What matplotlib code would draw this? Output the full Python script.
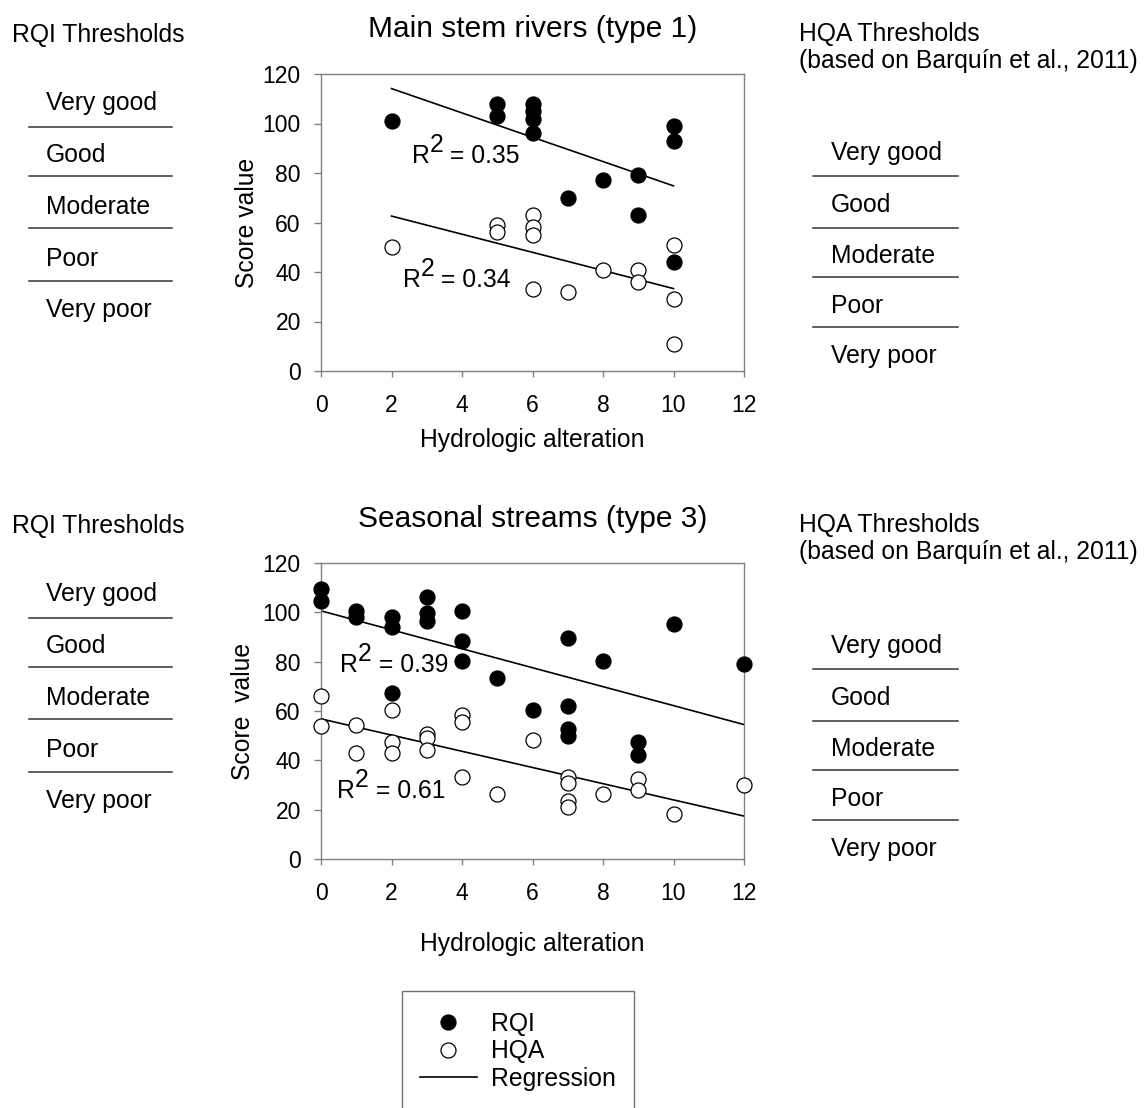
import matplotlib
matplotlib.use("Agg")
import matplotlib.pyplot as plt
from matplotlib.lines import Line2D
from matplotlib.patches import Rectangle

plt.rcParams['font.family'] = ['Liberation Sans', 'DejaVu Sans']

# ---------------- data ----------------
xticks = [0, 2, 4, 6, 8, 10, 12]
yticks = [0, 20, 40, 60, 80, 100, 120]
levels = ["Very good", "Good", "Moderate", "Poor", "Very poor"]

# Main stem rivers (type 1)
t1_rqi_x = [2, 5, 5, 6, 6, 6, 6, 7, 8, 9, 9, 10, 10, 10]
t1_rqi_y = [101, 108, 103, 108, 105, 102, 96, 70, 77, 79, 63, 99, 93, 44]
t1_hqa_x = [2, 5, 5, 6, 6, 6, 6, 7, 8, 9, 9, 10, 10, 10]
t1_hqa_y = [50, 59, 56, 63, 58, 55, 33, 32, 41, 41, 36, 51, 29, 11]
t1_fit_x = [2, 10]
t1_fit_rqi = [114.1, 74.8]
t1_fit_hqa = [62.6, 33.3]
t1_r2 = ["0.35", "0.34"]

# Seasonal streams (type 3)
t3_rqi_x = [0, 0, 1, 1, 2, 2, 2, 3, 3, 3, 4, 4, 4, 5, 6, 7, 7, 7, 7, 8, 9, 9, 10, 12]
t3_rqi_y = [109.5, 104.5, 100.5, 98, 98.2, 94.2, 67.2, 106.4, 99.8, 96.6, 100.4, 88.2, 80.1,
            73.2, 60.4, 89.4, 62.2, 52.6, 50, 80.1, 47.3, 42.3, 95.3, 79]
t3_hqa_x = [0, 0, 1, 1, 2, 2, 2, 3, 3, 3, 4, 4, 4, 5, 6, 7, 7, 7, 7, 8, 9, 9, 10, 12]
t3_hqa_y = [66.2, 54.1, 54.5, 43, 60.4, 47.3, 43, 50.7, 48.9, 44.2, 58.4, 55.7, 33.1,
            26.4, 48.2, 33.4, 30.7, 23.6, 20.9, 26.4, 32.4, 28, 18.2, 30.1]
t3_fit_x = [0, 12]
t3_fit_rqi = [100.6, 54.5]
t3_fit_hqa = [56.8, 17.4]
t3_r2 = ["0.39", "0.61"]

# ---------------- layout ----------------
W, H = 1146, 1108
fig = plt.figure(figsize=(W / 100, H / 100), dpi=100)
fig.patch.set_facecolor('white')


def fx(px):
    return px / W


def fy(py):
    return 1 - py / H


SPINE = '#808080'
BODY = 17.8
MS = 10.8


def r2_label(ax, xr, yr, val):
    t_r = ax.text(xr, yr, "R", fontsize=BODY, ha='left', va='baseline')
    t_2 = ax.annotate("2", xy=(1, 0), xycoords=t_r, xytext=(0, 11),
                      textcoords='offset pixels', fontsize=BODY, ha='left', va='bottom')
    ax.annotate(" = " + val, xy=(1, 0), xycoords=t_2, xytext=(0, -11),
                textcoords='offset pixels', fontsize=BODY, ha='left', va='bottom')


def make_axes(top, bottom, title, title_base, ylabel, ylab_x, xlab_base,
              rqi_x, rqi_y, hqa_x, hqa_y, fit_x, fit_rqi, fit_hqa, r2, r2pos):
    ax = fig.add_axes([fx(321), fy(bottom), (744 - 321) / W, (bottom - top) / H])
    ax.plot(fit_x, fit_rqi, color='black', lw=1.2, zorder=2)
    ax.plot(fit_x, fit_hqa, color='black', lw=1.2, zorder=2)
    ax.plot(rqi_x, rqi_y, ls='none', marker='o', ms=MS, mfc='black', mec='black',
            mew=0.9, clip_on=False, zorder=3)
    ax.plot(hqa_x, hqa_y, ls='none', marker='o', ms=MS, mfc='white', mec='black',
            mew=0.9, clip_on=False, zorder=3)
    ax.set_xlim(0, 12)
    ax.set_ylim(0, 120)
    ax.set_xticks(xticks)
    ax.set_yticks(yticks)
    ax.set_xticklabels([str(v) for v in xticks])
    ax.set_yticklabels([str(v) for v in yticks])
    for s in ax.spines.values():
        s.set_color(SPINE)
        s.set_linewidth(1.0)
    ax.tick_params(axis='x', direction='out', length=4, width=1, color=SPINE,
                   labelsize=16.5, pad=12.5)
    ax.tick_params(axis='y', direction='out', length=5, width=1, color=SPINE,
                   labelsize=16.5, pad=9.5)
    for (xr, yr), val in zip(r2pos, r2):
        r2_label(ax, xr, yr, val)
    fig.text(fx(532.5), fy(title_base), title, fontsize=21.5, ha='center', va='baseline')
    fig.text(fx(ylab_x), fy((top + bottom) / 2), ylabel, fontsize=BODY, rotation=90,
             rotation_mode='anchor', ha='center', va='baseline')
    fig.text(fx(532.5), fy(xlab_base), "Hydrologic alteration", fontsize=BODY,
             ha='center', va='baseline')
    return ax


make_axes(74, 371, "Main stem rivers (type 1)", 37, "Score value", 254, 447,
          t1_rqi_x, t1_rqi_y, t1_hqa_x, t1_hqa_y, t1_fit_x, t1_fit_rqi, t1_fit_hqa,
          t1_r2, [(2.57, 84.0), (2.32, 34.1)])
make_axes(563, 859, "Seasonal streams (type 3)", 527, "Score  value", 250, 951,
          t3_rqi_x, t3_rqi_y, t3_hqa_x, t3_hqa_y, t3_fit_x, t3_fit_rqi, t3_fit_hqa,
          t3_r2, [(0.54, 75.8), (0.46, 24.6)])


# threshold side panels
def thresholds(dy_head, dy_lev):
    # left (RQI)
    fig.text(fx(12), fy(42 + dy_head), "RQI Thresholds", fontsize=BODY, va='baseline')
    for name, base in zip(levels, [110, 162, 214, 266, 317]):
        fig.text(fx(46), fy(base + dy_head), name, fontsize=BODY, va='baseline')
    for ly in [127, 176, 228, 281]:
        fig.add_artist(Line2D([fx(29), fx(172)], [fy(ly + dy_head)] * 2,
                              transform=fig.transFigure, color='#333333', lw=1.1))
    # right (HQA)
    fig.text(fx(799), fy(41 + dy_head), "HQA Thresholds", fontsize=BODY, va='baseline')
    fig.text(fx(799), fy(68 + dy_head), "(based on Barquín et al., 2011)", fontsize=BODY,
             va='baseline')
    for name, base in zip(levels, [160, 212, 263, 313, 363]):
        fig.text(fx(831), fy(base + dy_lev), name, fontsize=BODY, va='baseline')
    for ly in [176, 228, 277, 327]:
        fig.add_artist(Line2D([fx(813), fx(958)], [fy(ly + dy_lev)] * 2,
                              transform=fig.transFigure, color='#333333', lw=1.1))


thresholds(0, 0)
thresholds(491, 493)

# legend
fig.add_artist(Rectangle((fx(402), fy(1130)), (634 - 402) / W, (1130 - 991) / H,
                         transform=fig.transFigure, fill=False, edgecolor='#707070',
                         lw=1.0))
handles = [
    Line2D([], [], ls='none', marker='o', ms=MS, mfc='black', mec='black', mew=0.9),
    Line2D([], [], ls='none', marker='o', ms=MS, mfc='white', mec='black', mew=0.9),
    Line2D([], [], color='black', lw=1.2),
]
fig.legend(handles, ["RQI", "HQA", "Regression"], loc='upper left',
           bbox_to_anchor=(fx(420), fy(1012)), frameon=False, fontsize=BODY,
           borderpad=0, borderaxespad=0, handlelength=2.3, handletextpad=0.57,
           labelspacing=0.14)

fig.savefig("out.png", dpi=100, facecolor='white')
